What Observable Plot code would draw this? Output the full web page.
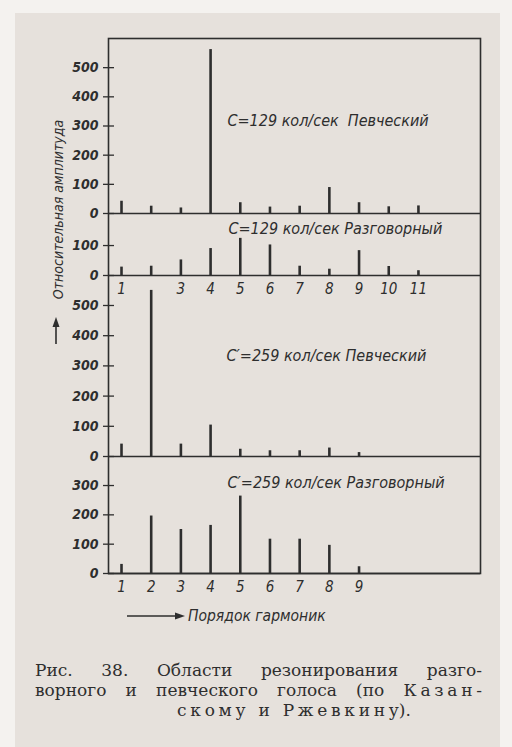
<!DOCTYPE html>
<html><head><meta charset="utf-8">
<script src="https://cdn.jsdelivr.net/npm/d3@7"></script>
<script src="https://cdn.jsdelivr.net/npm/@observablehq/plot@0.6"></script>
<style>
body{margin:0;background:#f4f2ef;}
#page{position:relative;width:512px;height:747px;overflow:hidden;}
#paper{position:absolute;left:15px;top:13px;width:485px;height:734px;background:#e6e1dc;}
.layer{position:absolute;left:0;top:0;}
#caption{position:absolute;left:35px;top:660px;width:447px;font-family:"DejaVu Serif","Liberation Serif",serif;font-size:17px;line-height:20px;color:#2e2e2e;}
#caption .j{text-align:justify;text-align-last:justify;white-space:nowrap;}
#caption .c{padding-left:142px;white-space:nowrap;}
#caption .sp{letter-spacing:0.22em;}
</style></head><body>
<div id="page"><div id="paper"></div><div id="chart"></div>
<svg class="layer" width="512" height="747" id="annot">
  <g stroke="#2e2e2e" fill="#2e2e2e">
    <line x1="56" y1="344" x2="56" y2="326" stroke-width="1.6"/>
    <polygon points="52.5,327 59.5,327 56,317" stroke="none"/>
    <line x1="127" y1="616" x2="176" y2="616" stroke-width="1.6"/>
    <polygon points="175,612.5 175,619.5 185,616" stroke="none"/>
  </g>
  <text x="188" y="621" font-family="DejaVu Sans Condensed, sans-serif" font-style="italic" font-size="15.5" fill="#2e2e2e">Порядок гармоник</text>
</svg>
<div id="caption">
 <div class="j">Рис. 38. Области резонирования разго-</div>
 <div class="j">ворного и певческого голоса (по <span class="sp">Казан</span>-</div>
 <div class="c"><span class="sp">скому и Ржевкин</span>у).</div>
</div>
</div>
<script>
// Harmonic orders
const harmonics = [1, 2, 3, 4, 5, 6, 7, 8, 9, 10, 11];
// Relative amplitudes
const singing129 = [42, 25, 19, 562, 37, 22, 25, 89, 37, 23, 26];
const speaking129 = [28, 31, 52, 90, 124, 102, 31, 21, 83, 30, 16];
const singing259 = [41, 550, 41, 104, 24, 19, 19, 28, 13];
const speaking259 = [31, 196, 150, 164, 264, 117, 117, 96, 23];
// Titles
const titles = ["C=129 кол/сек  Певческий", "C=129 кол/сек Разговорный", "C′=259 кол/сек Певческий", "C′=259 кол/сек Разговорный"];
// Tick values
const yTicks600 = [0, 100, 200, 300, 400, 500];
const yTicks200 = [0, 100];
const yTicks300 = [0, 100, 200, 300];
const xTicksTop = [1, 3, 4, 5, 6, 7, 8, 9, 10, 11];
const xTicksBottom = [1, 2, 3, 4, 5, 6, 7, 8, 9];
const yLabel = "Относительная амплитуда";

const INK = "#2e2e2e";
const FONT = "'DejaVu Sans Condensed', 'DejaVu Sans', sans-serif";
const W = 512, H = 747, ML = 108, MR = 32;
const xDomain = [0.562, 13.09];

function panel(values, top, bottom, ymax, yTicks, xTicks, title, tx, ty) {
  const data = values.map((v, i) => ({h: harmonics[i], v}));
  const marks = [
    Plot.ruleY([0], {stroke: INK, strokeWidth: 1.6}),
    Plot.ruleX(data, {x: "h", y1: 0, y2: "v", stroke: INK, strokeWidth: 2.6}),
    Plot.axisY(yTicks, {anchor: "left", label: null, tickSize: 5, tickPadding: 5, fontSize: 14, fontWeight: "bold", fontStyle: "italic", stroke: INK, strokeWidth: 1.3, fill: INK}),
    Plot.tickY(yTicks, {y: d => d, insetRight: (W - ML - MR) - 6, stroke: INK, strokeWidth: 1.3}),
    Plot.text([title], {frameAnchor: "top-left", textAnchor: "start", lineAnchor: "middle", dx: tx - ML, dy: ty - top, fontSize: 16, fontStyle: "italic", fill: INK})
  ];
  if (xTicks) marks.push(Plot.axisX(xTicks, {anchor: "bottom", label: null, tickSize: 0, tickPadding: 8, fontSize: 15, fontStyle: "italic", fill: INK}));
  const p = Plot.plot({
    width: W, height: H, marginLeft: ML, marginRight: MR, marginTop: top, marginBottom: H - bottom,
    style: {background: "transparent", overflow: "visible", fontFamily: FONT, color: INK},
    x: {domain: xDomain, axis: null},
    y: {domain: [0, ymax], axis: null},
    marks
  });
  p.classList.add("layer");
  return p;
}

const chart = document.getElementById("chart");
// frame + y label
const frame = Plot.plot({
  width: W, height: H, marginLeft: ML, marginRight: MR, marginTop: 38, marginBottom: H - 573,
  style: {background: "transparent", overflow: "visible", fontFamily: FONT, color: INK},
  x: {domain: xDomain, axis: null}, y: {domain: [0, 1], axis: null},
  marks: [
    Plot.frame({stroke: INK, strokeWidth: 1.6}),
    Plot.text([yLabel], {frameAnchor: "left", textAnchor: "middle", lineAnchor: "middle", rotate: -90, dx: -50, dy: 209 - 305.5, fontSize: 14, fontStyle: "italic", fill: INK})
  ]
});
frame.classList.add("layer");
chart.append(frame);
chart.append(panel(singing129, 38, 213, 600, yTicks600, null, titles[0], 227, 120));
chart.append(panel(speaking129, 213, 275, 207, yTicks200, xTicksTop, titles[1], 228, 228));
chart.append(panel(singing259, 276, 456, 596, yTicks600, null, titles[2], 226, 355));
chart.append(panel(speaking259, 456, 573, 399, yTicks300, xTicksBottom, titles[3], 227, 482));
</script>
</body></html>
